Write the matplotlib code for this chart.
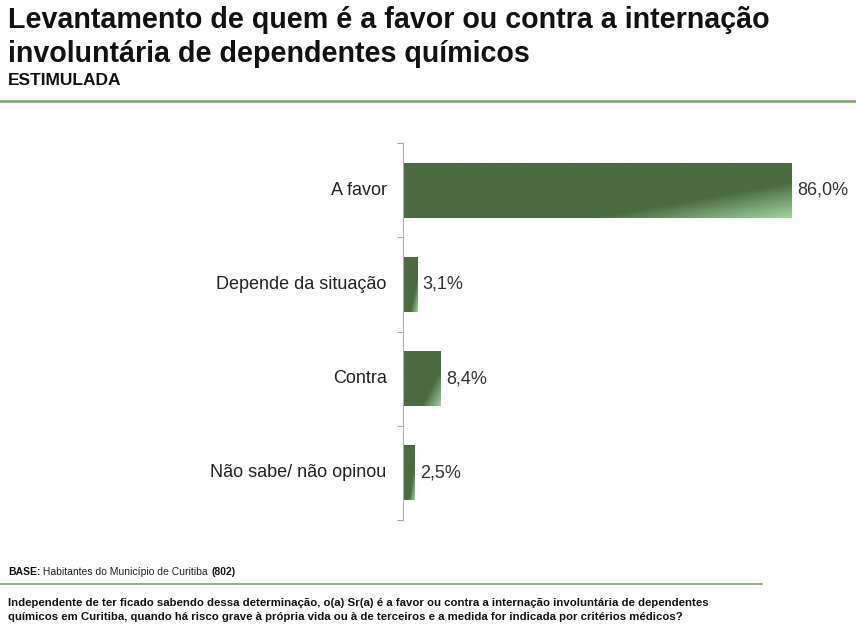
import numpy as np
import matplotlib
matplotlib.use("Agg")
import matplotlib.pyplot as plt
from matplotlib.colors import LinearSegmentedColormap
from matplotlib.patches import Rectangle

plt.rcParams['font.family'] = ['Liberation Sans', 'DejaVu Sans']

categories = ["A favor", "Depende da situação", "Contra", "Não sabe/ não opinou"]
values = [86.0, 3.1, 8.4, 2.5]
value_labels = ["86,0%", "3,1%", "8,4%", "2,5%"]

title_lines = ["Levantamento de quem é a favor ou contra a internação",
               "involuntária de dependentes químicos"]
subtitle = "ESTIMULADA"
base_bold = "BASE:"
base_text = " Habitantes do Município de Curitiba "
base_n = "(802)"
question_lines = ["Independente de ter ficado sabendo dessa determinação, o(a) Sr(a) é a favor ou contra a internação involuntária de dependentes",
                  "químicos em Curitiba, quando há risco grave à própria vida ou à de terceiros e a medida for indicada por critérios médicos?"]

W, H = 856, 644
fig = plt.figure(figsize=(W / 100, H / 100), dpi=100)
fig.patch.set_facecolor('white')

ax = fig.add_axes([403 / W, (H - 520) / H, 453 / W, 377 / H])
ax.set_xlim(0, 100.2)
n = len(categories)
ax.set_ylim(n - 0.5, -0.5)

cmap = LinearSegmentedColormap.from_list(
    "g", [(0.0, "#4b6b42"), (0.72, "#4b6b42"), (1.0, "#a3d3a0")])
bar_h = 0.585
u = np.linspace(0, 1, 300)
v = np.linspace(0, 1, 80)
U, V = np.meshgrid(u, v)
for i, val in enumerate(values):
    y0 = i - bar_h / 2
    rect = Rectangle((0, y0), val, bar_h, facecolor='none', edgecolor='none')
    ax.add_patch(rect)
    grad = 0.56 * U + 0.44 * V  # V=1 at bottom
    im = ax.imshow(grad, cmap=cmap, extent=(0, val, y0 + bar_h, y0),
                   origin='upper', aspect='auto', vmin=0, vmax=1, zorder=2)
    im.set_clip_path(rect)
    ax.text(val + 1.2, i, value_labels[i], va='center', ha='left',
            fontsize=13, color='#333333')

ax.set_yticks(np.arange(-0.5, n, 1.0))
ax.set_yticklabels([])
ax.tick_params(axis='y', length=4, color='#aaaaaa', direction='out')
ax.set_xticks([])
for s in ['top', 'right', 'bottom']:
    ax.spines[s].set_visible(False)
ax.spines['left'].set_color('#b0b0b0')
for i, c in enumerate(categories):
    ax.text(-3.6, i, c, ha='right', va='center', fontsize=13, color='#222222')

# Titles
for k, line in enumerate(title_lines):
    fig.text(8 / W, 1 - (28 + 34 * k) / H, line, fontsize=20.6, fontweight='bold',
             color='#111111', va='baseline', ha='left')
fig.text(8 / W, 1 - 85 / H, subtitle, fontsize=12.5, fontweight='bold',
         color='#111111', va='baseline', ha='left')
fig.add_artist(plt.Line2D([0, 1], [1 - 101 / H] * 2, color='#7d9e6e', lw=1.8,
                          transform=fig.transFigure))

# Base line
fs_base = 7.5
t1 = fig.text(8 / W, 1 - 575 / H, base_bold, fontsize=fs_base, fontweight='bold',
              color='#111111', va='baseline')
fig.canvas.draw()
r = fig.canvas.get_renderer()
bb = t1.get_window_extent(r)
t2 = fig.text(bb.x1 / W, 1 - 575 / H, base_text, fontsize=fs_base, color='#222222', va='baseline')
bb2 = t2.get_window_extent(r)
fig.text(bb2.x1 / W, 1 - 575 / H, base_n, fontsize=fs_base, fontweight='bold',
         color='#111111', va='baseline')
fig.add_artist(plt.Line2D([0, 762 / W], [1 - 584 / H] * 2, color='#7d9e6e', lw=1.2,
                          transform=fig.transFigure))
for k, line in enumerate(question_lines):
    fig.text(8 / W, 1 - (606 + 14 * k) / H, line, fontsize=8.2, fontweight='bold',
             color='#111111', va='baseline', ha='left')

fig.savefig("out.png", dpi=100, facecolor='white')
